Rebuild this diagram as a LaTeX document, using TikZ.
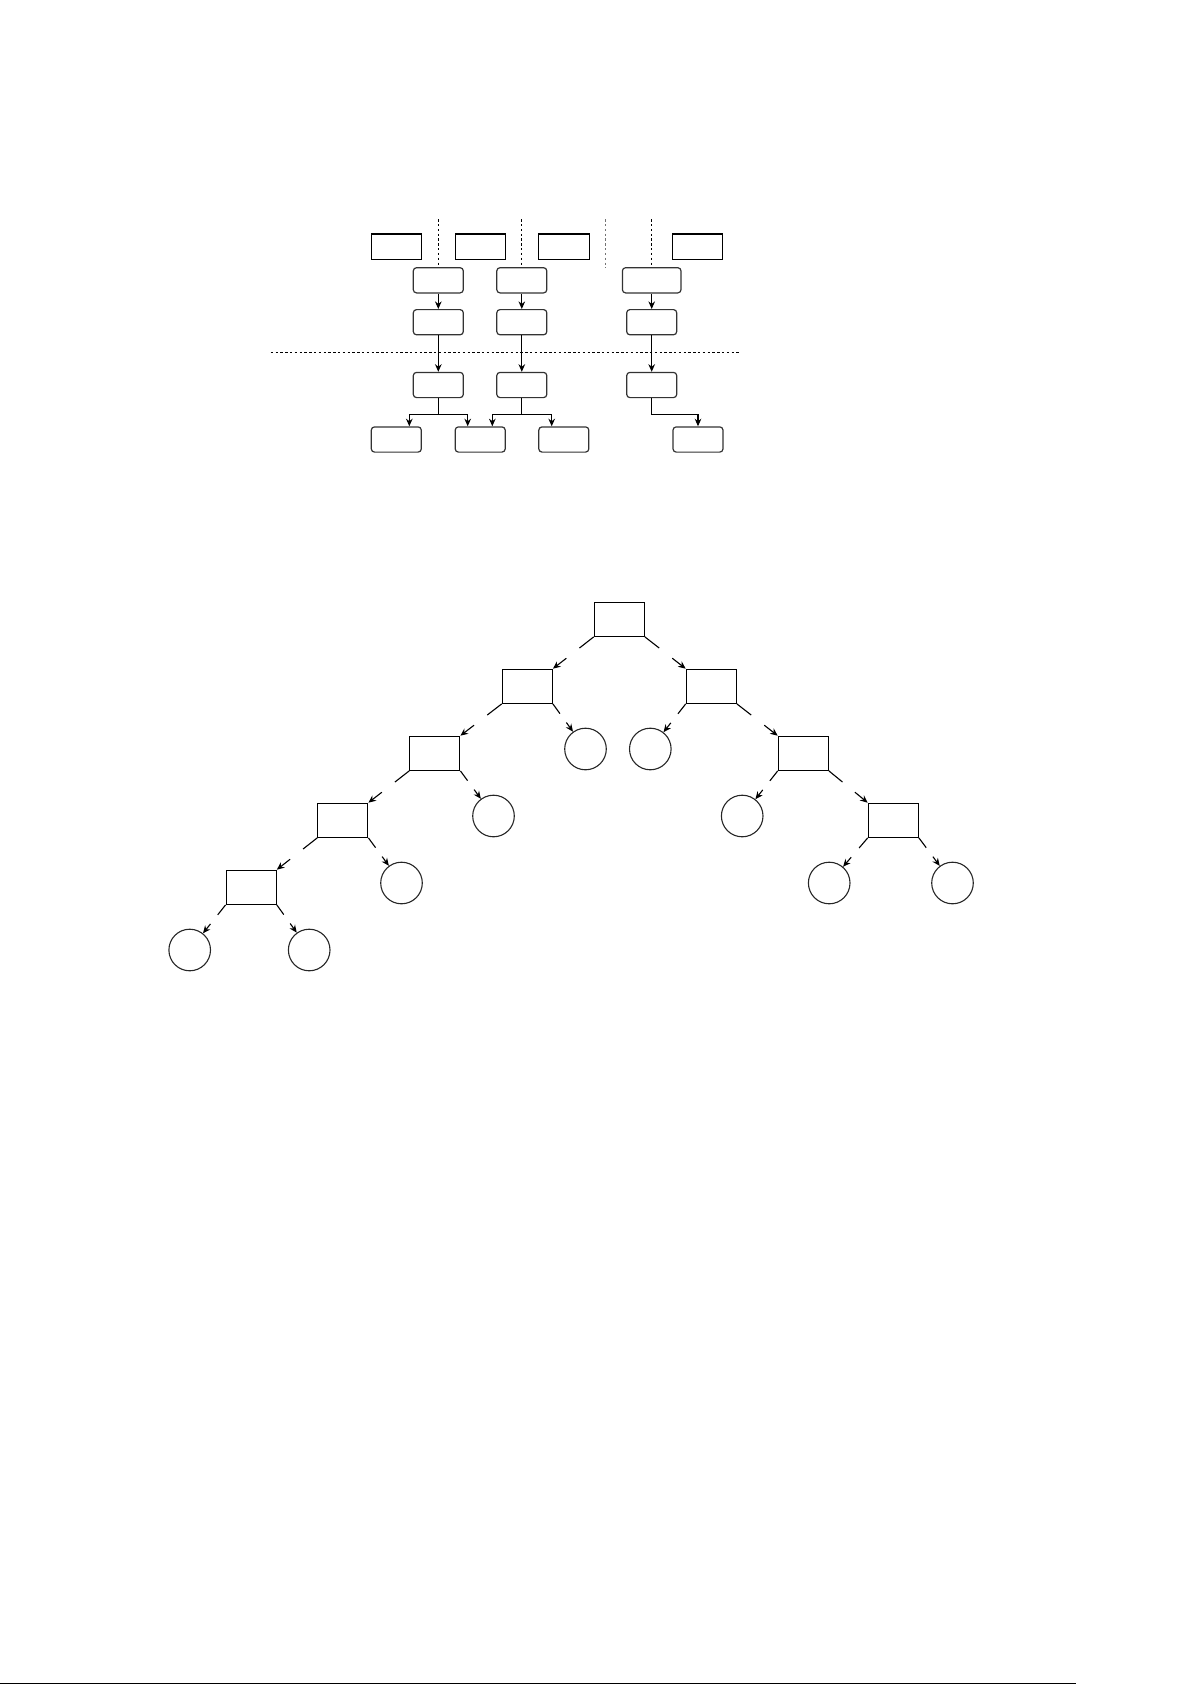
\documentclass[tikz,border=0pt]{standalone}
\usetikzlibrary{arrows.meta,calc}
\newcommand\gapline[3]{%
  \path (#1) -- coordinate[pos=0.35] (#3a) coordinate[pos=0.67] (#3b) (#2);
  \draw[ln] (#1) -- (#3a);
  \draw[ln,arr] (#3b) -- (#2);
}
\begin{document}
\begin{tikzpicture}[x=0.5pt,y=-0.5pt,
  sq/.style={draw=black, line width=0.65pt, minimum width=25pt, minimum height=12.6pt, inner sep=0pt},
  rb/.style={draw=black!80, line width=0.6pt, rounded corners=1.6pt, minimum width=25pt, minimum height=12.6pt, inner sep=0pt},
  tr/.style={draw=black, line width=0.6pt, minimum width=25pt, minimum height=17pt, inner sep=0pt},
  lf/.style={draw=black!85, line width=0.55pt, circle, minimum size=20.8pt, inner sep=0pt},
  arr/.style={-{Stealth[length=3.8pt,width=3.3pt]}},
  ln/.style={line width=0.55pt},
  dl/.style={line width=0.5pt, dash pattern=on 1.2pt off 1.2pt}]
\useasboundingbox (0,0) rectangle (1192,1685);

% ---------- top diagram ----------
\node[sq] (t1) at (396.3,246.7) {};
\node[sq] (t2) at (480.5,246.7) {};
\node[sq, minimum width=25.5pt] (t3) at (563.8,246.7) {};
\node[sq] (t4) at (697.8,246.7) {};

\node[rb] (r1a) at (438.3,280.3) {};
\node[rb] (r1b) at (521.8,280.3) {};
\node[rb, minimum width=29.3pt] (r1c) at (651.7,280.3) {};

\node[rb] (r2a) at (438.3,322.2) {};
\node[rb] (r2b) at (521.8,322.2) {};
\node[rb] (r2c) at (651.7,322.2) {};

\node[rb] (r3a) at (438.3,385) {};
\node[rb] (r3b) at (521.8,385) {};
\node[rb] (r3c) at (651.7,385) {};

\node[rb] (b1) at (396.3,439.5) {};
\node[rb] (b2) at (480.2,439.5) {};
\node[rb] (b3) at (563.8,439.5) {};
\node[rb] (b4) at (698,439.5) {};

% dashed separators
\coordinate (v1) at (438.3,219.3);
\coordinate (v2) at (521.8,219.3);
\coordinate (v3) at (605.3,219.3);
\coordinate (v3e) at (605.3,267.7);
\coordinate (v4) at (651.7,219.3);
\draw[dl] (v1) -- (r1a.north);
\draw[dl] (v2) -- (r1b.north);
\draw[dl, black!55] (v3) -- (v3e);
\draw[dl] (v4) -- (r1c.north);
\coordinate (h1) at (270.7,352.5);
\coordinate (h2) at (740,352.5);
\draw[dl] (h1) -- (h2);

% vertical arrows
\draw[ln,arr] (r1a) -- (r2a);
\draw[ln,arr] (r1b) -- (r2b);
\draw[ln,arr] (r1c) -- (r2c);
\draw[ln,arr] (r2a) -- (r3a);
\draw[ln,arr] (r2b) -- (r3b);
\draw[ln,arr] (r2c) -- (r3c);

% forks
\coordinate (ja) at (438.3,414.5);
\coordinate (jb) at (521.8,414.5);
\coordinate (jc) at (651.7,414.5);
\draw[ln,arr] (r3a.south) -- (ja) -| ($(b1.north)+(13,0)$);
\draw[ln,arr] (ja) -| ($(b2.north)+(-12.5,0)$);
\draw[ln,arr] (r3b.south) -- (jb) -| ($(b2.north)+(12.1,0)$);
\draw[ln,arr] (jb) -| ($(b3.north)+(-12.1,0)$);
\draw[ln,arr] (r3c.south) -- (jc) -| (b4.north);

% ---------- tree ----------
\node[tr] (n0) at (619.3,619.3) {};
\node[tr] (nL1) at (527.3,686.3) {};
\node[tr] (nL2) at (434.8,753.3) {};
\node[tr] (nL3) at (342.8,820.3) {};
\node[tr] (nL4) at (251.2,887.3) {};
\node[tr] (nR1) at (711.3,686.3) {};
\node[tr] (nR2) at (803.3,753.3) {};
\node[tr] (nR3) at (893.3,820.3) {};

\node[lf] (cL1) at (585.5,749) {};
\node[lf] (cR1) at (650.3,749) {};
\node[lf] (cL2) at (493.5,816) {};
\node[lf] (cR2) at (742.2,816) {};
\node[lf] (cL3) at (401.5,883) {};
\node[lf] (cR3a) at (829.2,883) {};
\node[lf] (cR3b) at (952.5,883) {};
\node[lf] (cL4a) at (189.7,950) {};
\node[lf] (cL4b) at (309.2,950) {};

\gapline{n0.south west}{nL1.north east}{e1}
\gapline{n0.south east}{nR1.north west}{e2}
\gapline{nL1.south west}{nL2.north east}{e3}
\gapline{nL1.south east}{cL1}{e4}
\gapline{nR1.south west}{cR1}{e5}
\gapline{nR1.south east}{nR2.north west}{e6}
\gapline{nL2.south west}{nL3.north east}{e7}
\gapline{nL2.south east}{cL2}{e8}
\gapline{nR2.south west}{cR2}{e9}
\gapline{nR2.south east}{nR3.north west}{e10}
\gapline{nL3.south west}{nL4.north east}{e11}
\gapline{nL3.south east}{cL3}{e12}
\gapline{nR3.south west}{cR3a}{e13}
\gapline{nR3.south east}{cR3b}{e14}
\gapline{nL4.south west}{cL4a}{e15}
\gapline{nL4.south east}{cL4b}{e16}

% ---------- bottom rule ----------
\coordinate (bl1) at (0,1683.5);
\coordinate (bl2) at (1076,1683.5);
\draw[line width=0.7pt] (bl1) -- (bl2);
\end{tikzpicture}
\end{document}
